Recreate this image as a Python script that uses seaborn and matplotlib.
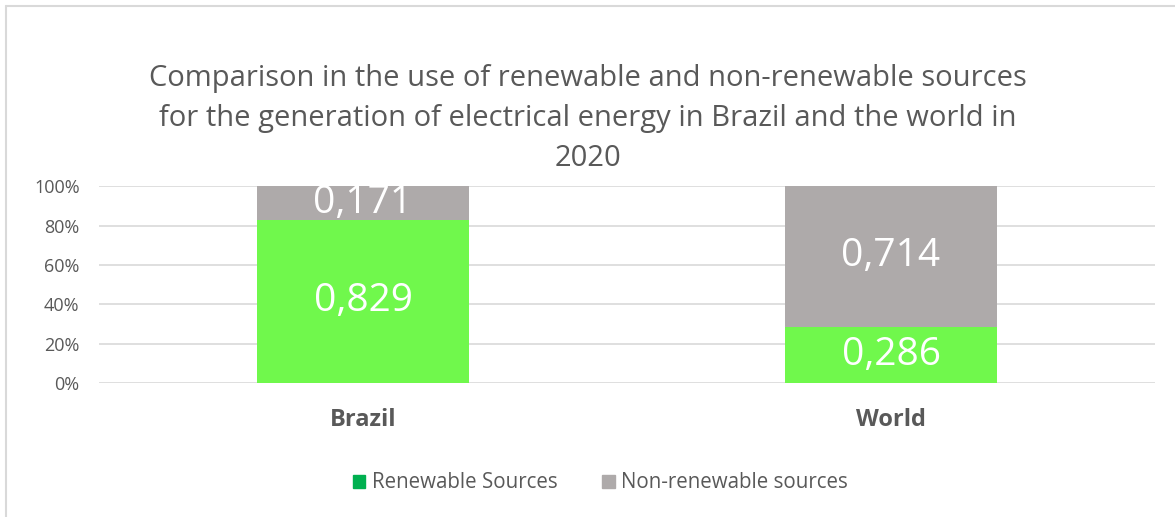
import matplotlib
matplotlib.use("Agg")
import matplotlib.pyplot as plt
import seaborn as sns
import pandas as pd
from matplotlib.patches import Patch

regions = ["Brazil", "World"]
renewable = [0.829, 0.286]
non_renewable = [0.171, 0.714]

df = pd.DataFrame({"Region": regions, "Renewable": renewable, "NonRenewable": non_renewable})

sns.set_style("white")
plt.rcParams['font.family'] = ['Open Sans', 'DejaVu Sans']

text_col = '#595959'
green = '#70F84C'
gray = '#AEAAAA'

fig = plt.figure(figsize=(11.75, 5.17), dpi=100)
ax = fig.add_axes([0.0843, 0.259, 0.8987, 0.381])

sns.barplot(data=df, x="Region", y="Renewable", color=green, width=0.4,
            saturation=1, ax=ax, zorder=3, linewidth=0)
sns.barplot(data=df, x="Region", y="NonRenewable", color=gray, width=0.4,
            saturation=1, ax=ax, bottom=df["Renewable"], zorder=3, linewidth=0)

for i in range(len(regions)):
    ax.text(i, renewable[i] / 2, f"{renewable[i]:.3f}".replace('.', ','),
            ha='center', va='center', color='white', fontsize=28, zorder=4)
    ax.text(i, renewable[i] + non_renewable[i] / 2, f"{non_renewable[i]:.3f}".replace('.', ','),
            ha='center', va='center', color='white', fontsize=28, zorder=4)

ax.set_ylim(0, 1)
ax.set_yticks([0, 0.2, 0.4, 0.6, 0.8, 1.0])
ax.set_yticklabels(["0%", "20%", "40%", "60%", "80%", "100%"])
ax.yaxis.grid(True, color='#D9D9D9', linewidth=1.2, zorder=0)
ax.set_axisbelow(True)
for s in ax.spines.values():
    s.set_visible(False)
ax.tick_params(axis='y', colors=text_col, labelsize=13, length=0, pad=14)
ax.tick_params(axis='x', length=0, pad=18)
for lbl in ax.get_xticklabels():
    lbl.set_fontweight('bold')
    lbl.set_fontsize(17)
    lbl.set_color(text_col)
ax.set_xlabel("")
ax.set_ylabel("")

fig.text(0.5, 0.77, "Comparison in the use of renewable and non-renewable sources\n"
         "for the generation of electrical energy in Brazil and the world in\n2020",
         ha='center', va='center', fontsize=21, color=text_col, linespacing=1.5)

handles = [Patch(color='#00B050', label='Renewable Sources'),
           Patch(color=gray, label='Non-renewable sources')]
fig.legend(handles=handles, loc='center', bbox_to_anchor=(0.511, 0.066), ncol=2,
           frameon=False, fontsize=14.8, labelcolor=text_col, handlelength=0.6,
           handleheight=0.6, handletextpad=0.3, columnspacing=2.2)

# chart frame (only left and top edges are visible in the crop)
fig.add_artist(plt.Line2D([0.0055, 0.0055], [0, 0.988], color='#D9D9D9', linewidth=1.5,
                          transform=fig.transFigure))
fig.add_artist(plt.Line2D([0.0055, 1], [0.988, 0.988], color='#D9D9D9', linewidth=1.5,
                          transform=fig.transFigure))

fig.savefig("out.png", dpi=100)
